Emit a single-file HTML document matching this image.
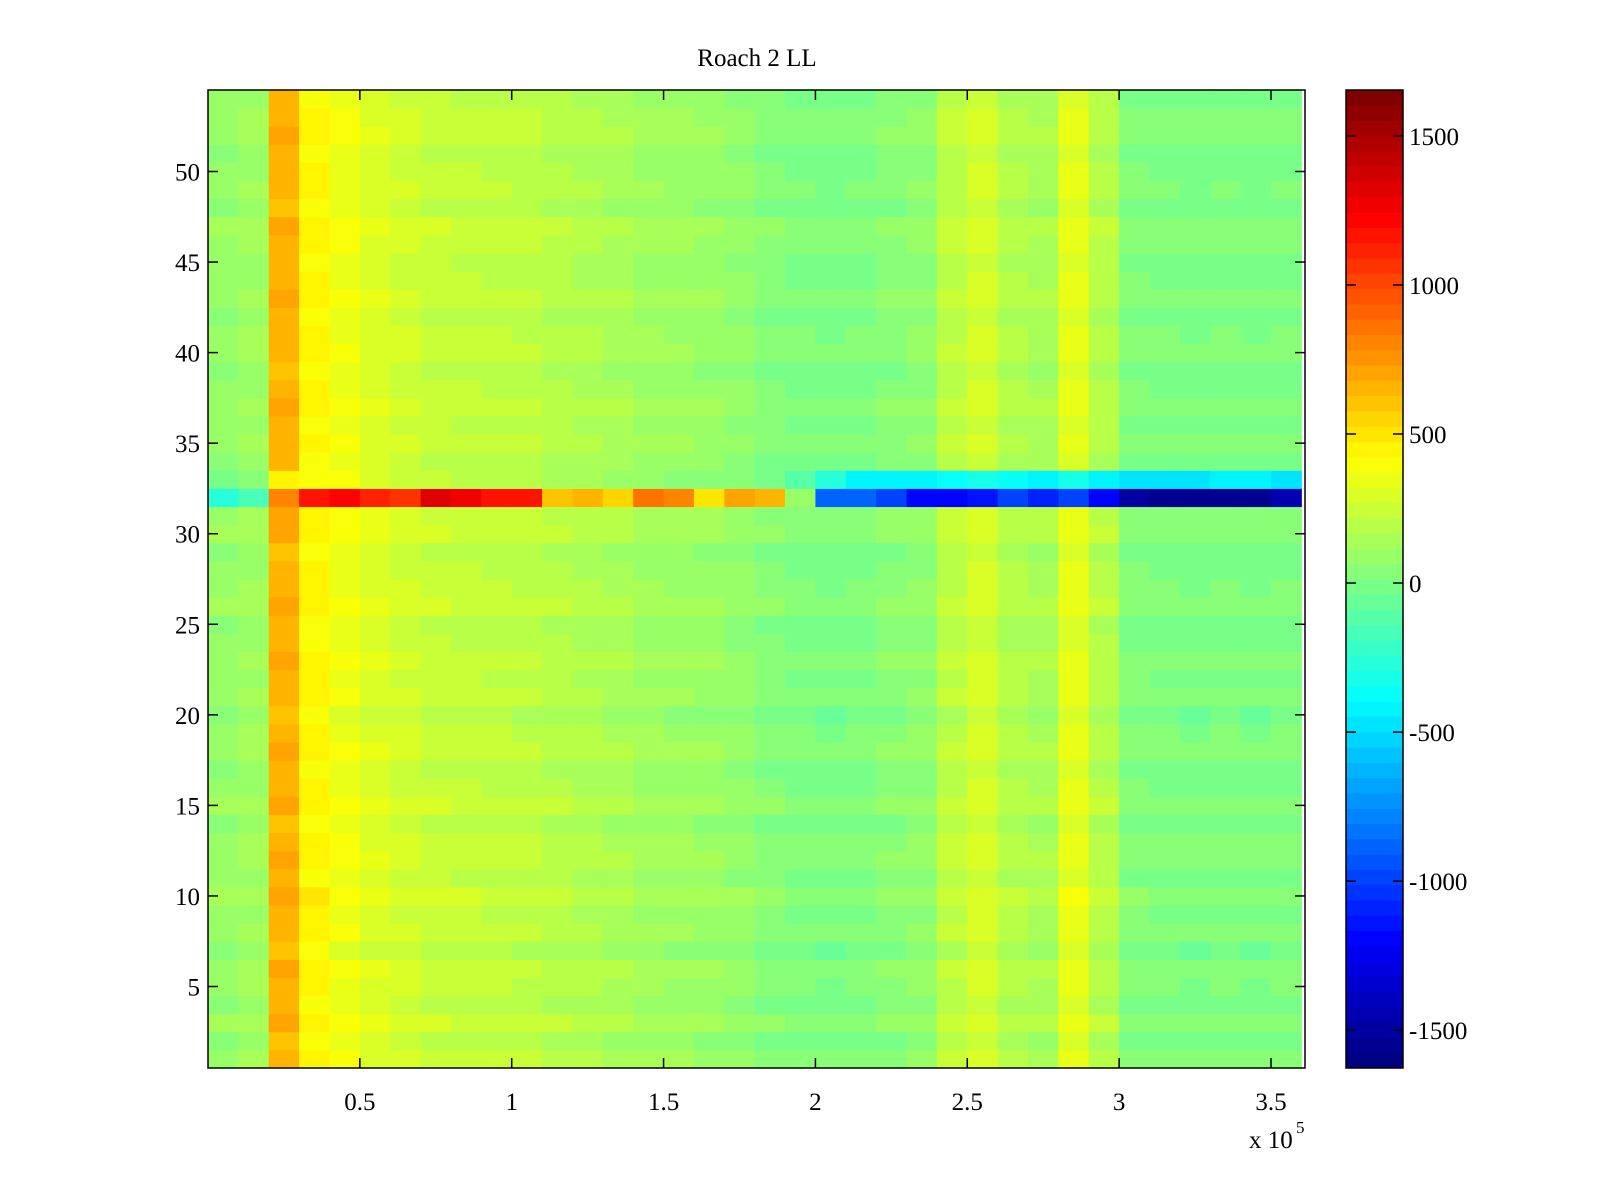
<!DOCTYPE html>
<html><head><meta charset="utf-8">
<style>
html,body{margin:0;padding:0;background:#fff;}
svg{display:block;font-family:"Liberation Serif",serif;}
</style></head>
<body>
<svg id="chart" width="1600" height="1200" viewBox="0 0 1600 1200" xmlns="http://www.w3.org/2000/svg">
<rect width="1600" height="1200" fill="#fff"/>
<text x="757" y="66" font-size="25" text-anchor="middle">Roach 2 LL</text>
<g id="cells"></g>
<g id="cbar"></g>
<g id="axes"></g>
</svg>
<script>
// Column bins of 1e4 across x = 0 .. 3.6e5 (baseline value for each bin)
const colMeans = [80,110,650,430,360,300,260,230,220,210,200,180,160,140,110,100,90,70,30,10,0,10,40,60,200,270,170,140,330,180,20,10,0,10,0,10];
// Row 32 band values, same bins
const row32 = [-250,-150,800,1150,1200,1100,1050,1300,1250,1150,1150,600,650,550,850,800,500,700,650,100,-900,-900,-1000,-1200,-1200,-1150,-1000,-1100,-1000,-1200,-1500,-1550,-1550,-1550,-1550,-1450];
// Row 33 values (partial cyan band on the right)
const row33 = [0,50,450,400,380,300,250,220,200,200,180,150,120,100,80,60,40,20,0,-100,-250,-400,-400,-400,-350,-300,-350,-400,-300,-400,-450,-450,-450,-400,-400,-450];
// Per-row offsets for rows 1..54
const rowOffsets = [20,-30,40,-20,10,30,-40,20,0,50,-10,30,20,-30,40,0,-20,30,10,-40,20,0,30,-10,-20,40,10,0,-30,40,30,0,0,-20,20,-10,30,0,-30,20,10,-20,30,0,-10,20,40,-30,10,0,-20,30,20,-10];
const xTicks = [0.5,1,1.5,2,2.5,3,3.5];
const xTickLabels = ["0.5","1","1.5","2","2.5","3","3.5"];
const yTicks = [5,10,15,20,25,30,35,40,45,50];
const cTicks = [1500,1000,500,0,-500,-1000,-1500];

const NS="http://www.w3.org/2000/svg";
const L=208,R=1305,T=90,B=1068;
const XMIN=0,XMAX=3.612,YMIN=0.5,YMAX=54.5;
const CMIN=-1627,CMAX=1654;
const xs=v=>L+(v-XMIN)/(XMAX-XMIN)*(R-L);
const ys=v=>T+(YMAX-v)/(YMAX-YMIN)*(B-T);
const CB_L=1346,CB_R=1403;
const cs=v=>T+(CMAX-v)/(CMAX-CMIN)*(B-T);
function jet(t){
  t=Math.max(0,Math.min(1,t));
  t=Math.floor(t*63.999)/63;
  const r=Math.max(0,Math.min(1,1.5-Math.abs(4*t-3)));
  const g=Math.max(0,Math.min(1,1.5-Math.abs(4*t-2)));
  const b=Math.max(0,Math.min(1,1.5-Math.abs(4*t-1)));
  return `rgb(${Math.round(r*255)},${Math.round(g*255)},${Math.round(b*255)})`;
}
const cval=v=>jet((v-CMIN)/(CMAX-CMIN));
function mk(tag,attrs,parent){const e=document.createElementNS(NS,tag);for(const k in attrs)e.setAttribute(k,attrs[k]);parent.appendChild(e);return e;}

const cells=document.getElementById('cells');
const n=colMeans.length;
for(let r=1;r<=54;r++){
  for(let c=0;c<n;c++){
    let v;
    if(r===32) v=row32[c];
    else if(r===33) v=row33[c]+rowOffsets[r-1];
    else v=colMeans[c]+rowOffsets[r-1];
    const x0=xs(c*0.1), x1=Math.min(R,xs((c+1)*0.1));
    const e=mk('rect',{x:x0,y:ys(r+0.5),width:x1-x0+0.5,height:ys(r-0.5)-ys(r+0.5)+0.5,fill:cval(v)},cells);
    
    
  }
}
const axes=document.getElementById('axes');
const fr=mk('rect',{x:L,y:T,width:R-L,height:B-T,fill:'none',stroke:'#000','stroke-width':1.5},axes);


xTicks.forEach((t,i)=>{
  const x=xs(t);
  const a=mk('line',{x1:x,x2:x,y1:B,y2:B-10,stroke:'#000','stroke-width':1.5},axes);
  
  
  const b=mk('line',{x1:x,x2:x,y1:T,y2:T+10,stroke:'#000','stroke-width':1.5},axes);
  
  
  const tx=mk('text',{x:x,y:1110,'font-size':25,'text-anchor':'middle'},axes);
  tx.textContent=xTickLabels[i];
  
  
});
yTicks.forEach(t=>{
  const y=ys(t);
  const a=mk('line',{x1:L,x2:L+10,y1:y,y2:y,stroke:'#000','stroke-width':1.5},axes);
  
  
  const b=mk('line',{x1:R,x2:R-10,y1:y,y2:y,stroke:'#000','stroke-width':1.5},axes);
  
  
  const tx=mk('text',{x:L-8,y:y+9,'font-size':25,'text-anchor':'end'},axes);
  tx.textContent=String(t);
  
  
});
const ex=mk('text',{x:1249,y:1148,'font-size':25},axes);
ex.textContent='x 10';


const sup=mk('text',{x:1296,y:1133,'font-size':17},axes);
sup.textContent='5';



const cbar=document.getElementById('cbar');
for(let i=0;i<64;i++){
  const v0=CMIN+(CMAX-CMIN)*i/64, v1=CMIN+(CMAX-CMIN)*(i+1)/64;
  const e=mk('rect',{x:CB_L,y:cs(v1),width:CB_R-CB_L,height:cs(v0)-cs(v1)+0.5,fill:jet((i+0.5)/64)},cbar);
  
  
}
const cf=mk('rect',{x:CB_L,y:T,width:CB_R-CB_L,height:B-T,fill:'none',stroke:'#000','stroke-width':1.5},cbar);


cTicks.forEach(t=>{
  const y=cs(t);
  const a=mk('line',{x1:CB_L,x2:CB_L+10,y1:y,y2:y,stroke:'#000','stroke-width':1.5},cbar);
  
  
  const b=mk('line',{x1:CB_R,x2:CB_R-10,y1:y,y2:y,stroke:'#000','stroke-width':1.5},cbar);
  
  
  const tx=mk('text',{x:CB_R+6,y:y+9,'font-size':25},cbar);
  tx.textContent=(t<0?'-':'')+Math.abs(t);
  
  
});
</script>
</body></html>
